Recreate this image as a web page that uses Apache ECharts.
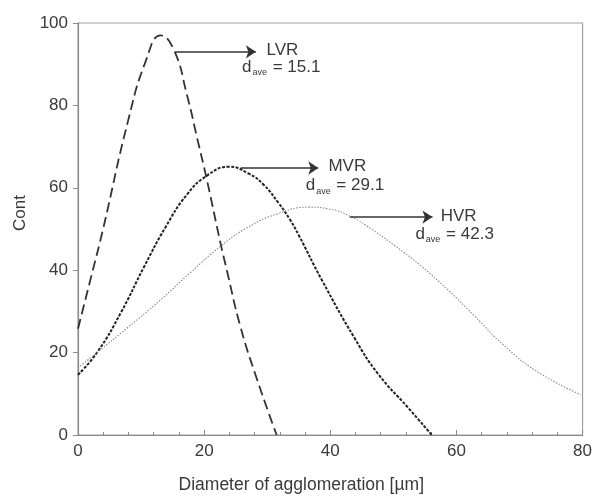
<!DOCTYPE html>
<html>
<head>
<meta charset="utf-8">
<script src="https://cdn.jsdelivr.net/npm/echarts@6/dist/echarts.min.js"></script>
<style>html,body{margin:0;padding:0;background:#fff}#c{width:595px;height:499px}</style>
</head>
<body>
<div id="c"></div>
<script>
// ---- data ----
var xTicks = [0, 20, 40, 60, 80];
var yTicks = [0, 20, 40, 60, 80, 100];
var seriesNames = ['LVR', 'MVR', 'HVR'];
var daveValues = ['15.1', '29.1', '42.3'];
var lvrPoints = [[0,25.8],[2.1,38.5],[3.9,49.5],[7.9,76],[10.8,91],[13.1,97],[15.2,93.5],[17.3,82.4],[18.9,72],[20.5,61.5],[22.6,46.5],[23.6,40],[25.7,26.6],[28.3,13.9],[31.5,0]];
var mvrPoints = [[0,14.6],[3.1,20.2],[6.8,29.7],[10.5,40.9],[13.9,50.5],[17.3,58.4],[20.5,63],[23.9,65.1],[27,63.5],[29.4,60.8],[31.8,56.3],[33.6,52.3],[35,48.5],[38.6,37.8],[43.9,23.4],[47.6,14.8],[52.3,6.7],[56.1,0]];
var hvrPoints = [[0,16.3],[3.1,20.1],[7.9,26.1],[13.1,32.8],[17.8,39.4],[22.6,45.8],[26.8,50.3],[31.5,53.6],[36.5,55.3],[39.7,54.9],[43.4,52.9],[46.5,50],[50.2,46],[54.4,41],[58.6,35.3],[62.8,29],[67.5,21.8],[72.8,15.4],[79.7,9.8]];
// annotation arrows: [xStart, xEnd, y]
var arrows = [[15.4, 28.2, 93], [25.8, 38.1, 64.8], [43.1, 56.2, 52.9]];
// annotation name label anchors and d_ave label anchors
var nameAnchors = [[29.9, 93.3], [39.7, 65.2], [57.5, 53.1]];
var daveAnchors = [[26.0, 89.2], [36.1, 60.5], [53.5, 48.7]];

var FONT = 'Liberation Sans, Arial, sans-serif';
var TXT = '#3a3a3a';
var chart = echarts.init(document.getElementById('c'), null, {renderer: 'canvas'});

function annot(i) {
  var a = arrows[i];
  return {
    markLine: {
      silent: true,
      symbol: ['none', 'arrow'],
      symbolSize: 10,
      lineStyle: {type: 'solid', color: '#333', width: 1.6},
      itemStyle: {color: '#333'},
      label: {show: false},
      data: [[{coord: [a[0], a[2]], symbol: 'none'}, {coord: [a[1], a[2]], symbol: 'arrow', symbolSize: 10}]]
    },
    markPoint: {
      silent: true,
      symbol: 'circle',
      symbolSize: 0,
      itemStyle: {color: 'transparent'},
      data: [
        {coord: nameAnchors[i], label: {show: true, position: 'right', distance: 0, formatter: seriesNames[i],
          color: TXT, fontFamily: FONT, fontSize: 17}},
        {coord: daveAnchors[i], label: {show: true, position: 'right', distance: 0,
          formatter: '{d|d}{s|ave}{t| = ' + daveValues[i] + '}',
          rich: {
            d: {color: TXT, fontFamily: FONT, fontSize: 17, lineHeight: 20, verticalAlign: 'middle'},
            s: {color: TXT, fontFamily: FONT, fontSize: 9, lineHeight: 20, verticalAlign: 'bottom', padding: [12, 1, 0, 1]},
            t: {color: TXT, fontFamily: FONT, fontSize: 17, lineHeight: 20, verticalAlign: 'middle'}
          }}}
      ]
    }
  };
}

function mkSeries(name, pts, ls, i) {
  var s = {
    name: name, type: 'line', data: pts, smooth: 0.5, showSymbol: false, symbol: 'none',
    lineStyle: ls, z: 3
  };
  var a = annot(i);
  s.markLine = a.markLine; s.markPoint = a.markPoint;
  return s;
}

chart.setOption({
  animation: false,
  backgroundColor: '#fff',
  grid: {left: 78, right: 10, top: 23, bottom: 58, show: true, borderColor: '#a0a0a0', borderWidth: 1.2, backgroundColor: 'transparent'},
  xAxis: {
    type: 'value', min: xTicks[0], max: xTicks[xTicks.length - 1], interval: 20,
    name: 'Diameter of agglomeration [\u00b5m]', nameLocation: 'middle', nameGap: 41,
    nameTextStyle: {color: TXT, fontFamily: FONT, fontSize: 17.5, padding: [0, 58, 0, 0]},
    axisLine: {show: true, lineStyle: {color: '#8a8a8a', width: 1.2}},
    axisTick: {show: true, inside: true, length: 5, lineStyle: {color: '#8a8a8a'}},
    minorTick: {show: true, splitNumber: 5, length: 3, lineStyle: {color: '#8a8a8a'}},
    splitLine: {show: false},
    axisLabel: {color: TXT, fontFamily: FONT, fontSize: 17, margin: 8}
  },
  yAxis: {
    type: 'value', min: yTicks[0], max: yTicks[yTicks.length - 1], interval: 20,
    name: 'Cont', nameLocation: 'middle', nameGap: 48, nameRotate: 90,
    nameTextStyle: {color: TXT, fontFamily: FONT, fontSize: 17, padding: [0, 0, 0, 32]},
    axisLine: {show: true, lineStyle: {color: '#8a8a8a', width: 1.2}},
    axisTick: {show: true, inside: false, length: 5, lineStyle: {color: '#8a8a8a'}},
    splitLine: {show: false},
    axisLabel: {color: TXT, fontFamily: FONT, fontSize: 17, margin: 10}
  },
  series: [
    mkSeries('LVR', lvrPoints, {type: [10, 5], color: '#333', width: 1.8}, 0),
    mkSeries('MVR', mvrPoints, {type: [3, 1.5], color: '#222', width: 2}, 1),
    mkSeries('HVR', hvrPoints, {type: [1.5, 1.5], color: '#8a8a8a', width: 1.1}, 2)
  ]
});
</script>
</body>
</html>
